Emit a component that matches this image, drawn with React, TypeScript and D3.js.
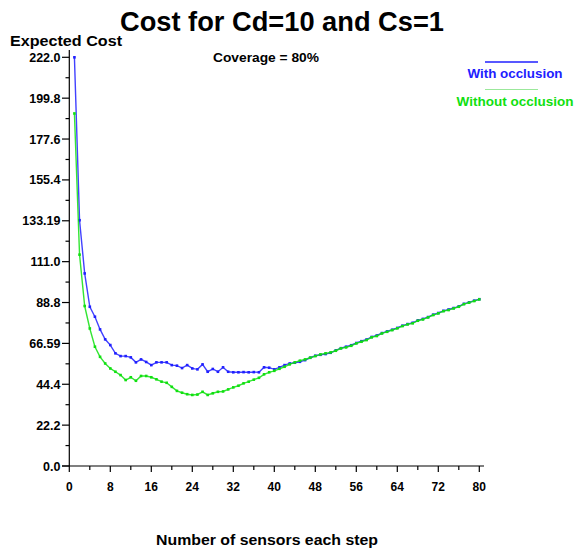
import React from "react";
import * as d3 from "d3";

const sensors: number[] = Array.from({ length: 80 }, (_, i) => i + 1);

const withOcclusion: number[] = [
  222.0, 133.5, 104.6, 86.5, 81.1, 74.2, 68.8, 65.7, 61.2, 59.7,
  59.7, 59.0, 56.3, 57.9, 56.5, 54.8, 56.3, 56.3, 56.3, 54.8,
  54.5, 53.2, 54.8, 53.0, 52.5, 55.2, 51.2, 52.7, 51.2, 53.6,
  51.2, 50.9, 50.9, 51.0, 50.9, 51.0, 50.9, 53.6, 53.4, 52.5,
  53.6, 54.8, 55.7, 56.1, 56.6, 57.5, 58.8, 59.9, 60.4, 60.8,
  61.5, 62.8, 64.0, 64.8, 65.6, 66.8, 67.8, 68.7, 70.1, 70.9,
  72.2, 73.1, 74.0, 75.0, 76.2, 77.1, 77.8, 79.1, 79.9, 80.9,
  82.2, 83.1, 84.3, 85.0, 85.8, 86.7, 88.1, 88.9, 89.8, 90.6,
];

const withoutOcclusion: number[] = [
  191.5, 114.8, 86.9, 74.7, 64.8, 59.3, 55.7, 53.0, 51.2, 49.4,
  46.7, 48.2, 46.3, 48.9, 48.9, 48.2, 47.1, 45.8, 45.2, 43.0,
  40.8, 39.8, 39.0, 38.6, 38.8, 40.3, 38.6, 39.5, 40.3, 40.5,
  41.6, 42.7, 43.6, 44.9, 45.8, 46.9, 47.9, 49.8, 50.9, 51.7,
  52.8, 53.9, 55.2, 56.3, 57.2, 57.9, 58.8, 59.7, 60.6, 61.2,
  61.7, 62.6, 63.9, 64.4, 65.3, 66.6, 67.5, 68.4, 69.9, 70.6,
  72.0, 72.9, 73.8, 74.8, 76.0, 76.9, 77.5, 78.9, 79.6, 80.7,
  82.0, 82.9, 84.1, 84.7, 85.6, 86.5, 87.9, 88.7, 89.6, 90.5,
];

const yTickValues: number[] = [0, 22.2, 44.4, 66.6, 88.8, 111.0, 133.2, 155.4, 177.6, 199.8, 222.0];
const yTickLabels: string[] = ["0.0", "22.2", "44.4", "66.59", "88.8", "111.0", "133.19", "155.4", "177.6", "199.8", "222.0"];
const xTickValues: number[] = [0, 8, 16, 24, 32, 40, 48, 56, 64, 72, 80];

const seriesNames: string[] = ["With occlusion", "Without occlusion"];

const BLUE = "#2020ff";
const GREEN = "#10e010";
const FONT = "'Liberation Sans', Arial, Helvetica, sans-serif";

export default function App() {
  const x = d3.scaleLinear().domain([0, 80]).range([69.3, 479.3]);
  const y = d3.scaleLinear().domain([0, 222]).range([466, 57.3]);

  const line = d3
    .line<number>()
    .x((_, i) => x(sensors[i]))
    .y((d) => y(d));

  const yMinor = d3.range(0, 10).map((i) => (yTickValues[i] + yTickValues[i + 1]) / 2);
  const xMinor = d3.range(0, 10).map((i) => (xTickValues[i] + xTickValues[i + 1]) / 2);

  const renderSeries = (vals: number[], color: string) => (
    <g>
      <path d={line(vals) || ""} fill="none" stroke={color} strokeWidth={1.4} strokeOpacity={0.85} />
      {vals.map((v, i) => (
        <rect
          key={i}
          x={x(sensors[i]) - 1.3}
          y={y(v) - 1.3}
          width={2.6}
          height={2.6}
          fill={color}
        />
      ))}
    </g>
  );

  return (
    <svg
      width={575}
      height={552}
      style={{ position: "absolute", left: 0, top: 0, background: "#fff" }}
      fontFamily={FONT}
      fontWeight="bold"
    >
      <rect width={575} height={552} fill="#fff" />
      <text x={282} y={31} fontSize={27} textAnchor="middle" textLength={324} lengthAdjust="spacingAndGlyphs">
        Cost for Cd=10 and Cs=1
      </text>
      <text x={10} y={46} fontSize={15.5} textLength={112} lengthAdjust="spacingAndGlyphs">
        Expected Cost
      </text>
      <text x={266} y={62} fontSize={13.5} textAnchor="middle" textLength={106} lengthAdjust="spacingAndGlyphs">
        Coverage = 80%
      </text>

      {/* axes */}
      <line x1={x(0)} x2={x(0)} y1={50} y2={y(0)} stroke="#000" strokeWidth={1.2} />
      <line x1={62} x2={484} y1={y(0)} y2={y(0)} stroke="#000" strokeWidth={1.2} />

      {yTickValues.map((v, i) => (
        <g key={"yt" + i}>
          <line x1={62} x2={x(0)} y1={y(v)} y2={y(v)} stroke="#000" strokeWidth={1.2} />
          <text x={60.5} y={y(v)} dy="0.36em" fontSize={12.5} textAnchor="end">
            {yTickLabels[i]}
          </text>
        </g>
      ))}
      {yMinor.map((v, i) => (
        <line key={"ym" + i} x1={65.5} x2={x(0)} y1={y(v)} y2={y(v)} stroke="#000" strokeWidth={1.2} />
      ))}

      {xTickValues.map((v, i) => (
        <g key={"xt" + i}>
          <line x1={x(v)} x2={x(v)} y1={y(0)} y2={y(0) + 6} stroke="#000" strokeWidth={1.2} />
          <text x={x(v)} y={491} fontSize={12} textAnchor="middle">
            {v}
          </text>
        </g>
      ))}
      {xMinor.map((v, i) => (
        <line key={"xm" + i} x1={x(v)} x2={x(v)} y1={y(0)} y2={y(0) + 4} stroke="#000" strokeWidth={1.2} />
      ))}

      <text x={267} y={545} fontSize={15} textAnchor="middle" textLength={222} lengthAdjust="spacingAndGlyphs">
        Number of sensors each step
      </text>

      {renderSeries(withOcclusion, BLUE)}
      {renderSeries(withoutOcclusion, GREEN)}

      {/* legend */}
      <line x1={485} x2={538} y1={62} y2={62} stroke={BLUE} strokeWidth={1.5} />
      <text x={515} y={78} fontSize={13} textAnchor="middle" fill={BLUE} textLength={95} lengthAdjust="spacingAndGlyphs">
        {seriesNames[0]}
      </text>
      <line x1={485} x2={538} y1={89.5} y2={89.5} stroke="#9be89b" strokeWidth={1} />
      <text x={515} y={106} fontSize={13} textAnchor="middle" fill={GREEN} textLength={117} lengthAdjust="spacingAndGlyphs">
        {seriesNames[1]}
      </text>
    </svg>
  );
}
